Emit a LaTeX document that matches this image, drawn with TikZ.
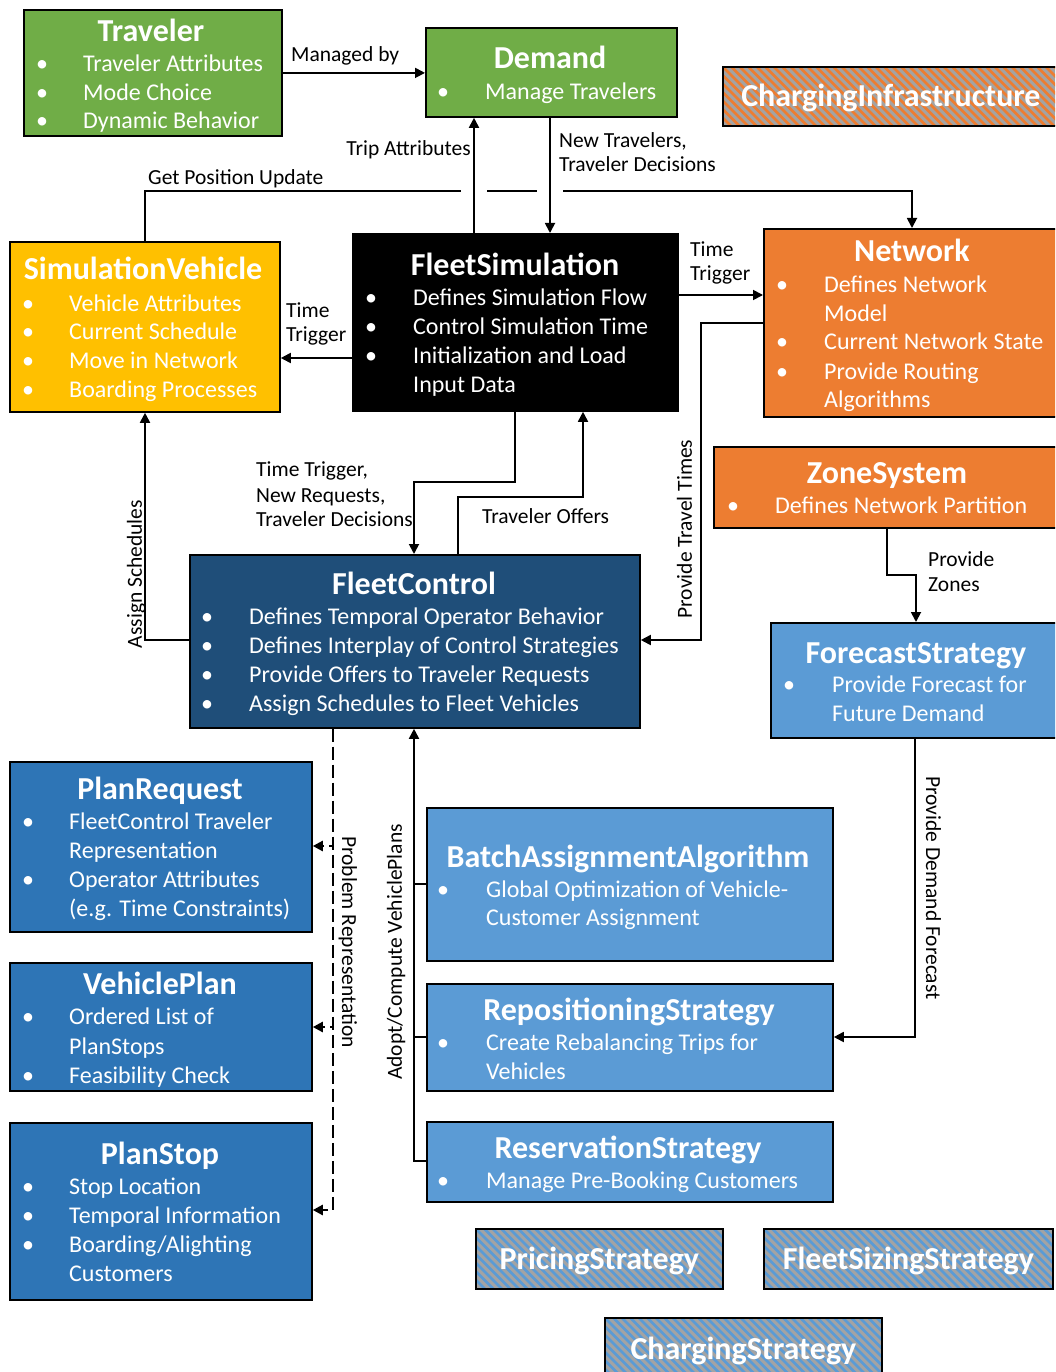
\documentclass[tikz,border=0pt]{standalone}
\usepackage{fontspec}
\setmainfont{Carlito}
\usetikzlibrary{arrows.meta}

\definecolor{cgreen}{HTML}{70AD47}
\definecolor{cyellow}{HTML}{FFC000}
\definecolor{corange}{HTML}{ED7D31}
\definecolor{cnavy}{HTML}{1F4E79}
\definecolor{cmid}{HTML}{2E75B6}
\definecolor{clight}{HTML}{5B9BD5}
\definecolor{hgray}{HTML}{A3A3A3}

% component box: name, colour, left, top, width, height
\newcommand\ubox[6]{\node[box, fill=#2, minimum width=#5pt, minimum height=#6pt] (#1) at (#3,#4) {};}
% component title: name, centre x, centre y, text
\newcommand\uttl[4]{\node[ttl] (#1) at (#2,#3) {#4};}
% bulleted line: name, bullet x, text x, y, text
\newcommand\uitem[5]{\node[bul] (#1-b) at (#2,#4) {\textbullet}; \node[itm] (#1) at (#3,#4) {#5};}
% continuation line: name, text x, y, text
\newcommand\ucont[4]{\node[itm] (#1) at (#2,#3) {#4};}

\tikzset{
  box/.style={draw=black, line width=1.8pt, inner sep=0pt, anchor=north west},
  ttl/.style={font=\bfseries\fontsize{32}{37}\selectfont, text=white, inner sep=0pt,
              text height=20.6pt, text depth=0pt},
  itm/.style={font=\fontsize{24}{29}\selectfont, text=white, inner sep=0pt,
              text height=15.5pt, text depth=0pt, anchor=west},
  bul/.style={itm, anchor=center},
  lbl/.style={font=\fontsize{21.5}{26}\selectfont, inner sep=0pt, text height=13.9pt, text depth=0pt},
  line/.style={draw=black, line width=1.8pt},
  conn/.style={line, -{Triangle[length=10pt,width=10pt]}},
  dconn/.style={conn, line width=2.4pt, dash pattern=on 13pt off 5pt},
  hatch/.style={box, fill=hgray, text=white,
    font=\bfseries\fontsize{32}{37}\selectfont, text height=20.6pt, text depth=0pt,
    path picture={
      \foreach \k in {-12,...,42}
        \draw[#1, line width=2.8pt]
          ([xshift=\k*8.5pt]path picture bounding box.north west) -- ++(100,100);
    }},
}

\begin{document}
\begin{tikzpicture}[x=1pt, y=-1pt]
\useasboundingbox (0,0) rectangle (1055,1372);
\clip (0,0) rectangle (1055,1372);

% ---------- boxes ----------
\ubox{trav}{cgreen}{23}{9}{258}{126}
\uttl{trav-t}{151}{31}{Traveler}
\uitem{trav-1}{42}{83}{64}{Traveler Attributes}
\uitem{trav-2}{42}{83}{92.5}{Mode Choice}
\uitem{trav-3}{42}{83}{121}{Dynamic Behavior}

\ubox{dem}{cgreen}{425}{27}{251}{89}
\uttl{dem-t}{550}{58}{Demand}
\uitem{dem-1}{443}{485}{92}{Manage Travelers}

\node[hatch=corange, minimum width=336pt, minimum height=59pt] (ci) at (722,66) {ChargingInfrastructure};

\ubox{fs}{black}{352}{233}{325}{177}
\uttl{fs-t}{515}{265}{FleetSimulation}
\uitem{fs-1}{371}{413}{298}{Defines Simulation Flow}
\uitem{fs-2}{371}{413}{327}{Control Simulation Time}
\uitem{fs-3}{371}{413}{356}{Initialization and Load}
\ucont{fs-4}{413}{385}{Input Data}

\ubox{sv}{cyellow}{9}{241}{270}{170}
\uttl{sv-t}{143}{269}{SimulationVehicle}
\uitem{sv-1}{28}{69}{303.5}{Vehicle Attributes}
\uitem{sv-2}{28}{69}{332}{Current Schedule}
\uitem{sv-3}{28}{69}{361}{Move in Network}
\uitem{sv-4}{28}{69}{390}{Boarding Processes}

\ubox{net}{corange}{763}{228}{300}{188}
\uttl{net-t}{912}{251}{Network}
\uitem{net-1}{782}{824}{285}{Defines Network}
\ucont{net-2}{824}{313.5}{Model}
\uitem{net-3}{782}{824}{342}{Current Network State}
\uitem{net-4}{782}{824}{371.5}{Provide Routing}
\ucont{net-5}{824}{400}{Algorithms}

\ubox{zs}{corange}{713}{446}{350}{81}
\uttl{zs-t}{887}{473}{ZoneSystem}
\uitem{zs-1}{733}{775}{506}{Defines Network Partition}

\ubox{fc}{cnavy}{189}{554}{450}{173}
\uttl{fc-t}{414}{584}{FleetControl}
\uitem{fc-1}{207}{249}{617}{Defines Temporal Operator Behavior}
\uitem{fc-2}{207}{249}{646}{Defines Interplay of Control Strategies}
\uitem{fc-3}{207}{249}{675}{Provide Offers to Traveler Requests}
\uitem{fc-4}{207}{249}{704}{Assign Schedules to Fleet Vehicles}

\ubox{fcs}{clight}{770}{622}{293}{115}
\uttl{fcs-t}{916}{653}{ForecastStrategy}
\uitem{fcs-1}{789}{832}{685}{Provide Forecast for}
\ucont{fcs-2}{832}{714}{Future Demand}

\ubox{pr}{cmid}{9}{761}{302}{170}
\uttl{pr-t}{160}{789}{PlanRequest}
\uitem{pr-1}{28}{69}{822}{FleetControl Traveler}
\ucont{pr-2}{69}{851}{Representation}
\uitem{pr-3}{28}{69}{880}{Operator Attributes}
\ucont{pr-4}{69}{909}{(e.g. Time Constraints)}

\ubox{vp}{cmid}{9}{962}{302}{128}
\uttl{vp-t}{160}{984}{VehiclePlan}
\uitem{vp-1}{28}{69}{1017}{Ordered List of}
\ucont{vp-2}{69}{1047}{PlanStops}
\uitem{vp-3}{28}{69}{1076}{Feasibility Check}

\ubox{ps}{cmid}{9}{1122}{302}{177}
\uttl{ps-t}{160}{1154}{PlanStop}
\uitem{ps-1}{28}{69}{1187}{Stop Location}
\uitem{ps-2}{28}{69}{1216}{Temporal Information}
\uitem{ps-3}{28}{69}{1245}{Boarding/Alighting}
\ucont{ps-4}{69}{1274}{Customers}

\ubox{bat}{clight}{426}{807}{406}{153}
\uttl{bat-t}{628}{857}{BatchAssignmentAlgorithm}
\uitem{bat-1}{443}{486}{890}{Global Optimization of Vehicle-}
\ucont{bat-2}{486}{918}{Customer Assignment}

\ubox{rep}{clight}{426}{983}{406}{107}
\uttl{rep-t}{629}{1010}{RepositioningStrategy}
\uitem{rep-1}{443}{486}{1043}{Create Rebalancing Trips for}
\ucont{rep-2}{486}{1072}{Vehicles}

\ubox{res}{clight}{426}{1121}{406}{80}
\uttl{res-t}{628}{1148}{ReservationStrategy}
\uitem{res-1}{443}{486}{1181}{Manage Pre-Booking Customers}

\node[hatch=clight, minimum width=247pt, minimum height=60pt] (pri) at (475,1228) {PricingStrategy};
\node[hatch=clight, minimum width=289pt, minimum height=60pt] (fss) at (763,1228) {FleetSizingStrategy};
\node[hatch=clight, minimum width=277pt, minimum height=63pt] (chs) at (604,1317) {ChargingStrategy};

% ---------- connectors ----------
\draw[conn] (trav.east) -- (trav.east -| dem.west);
\node[lbl, anchor=west] (l-man) at (291,55) {Managed by};

\draw[conn] (fs.north -| 474,0) -- (dem.south -| 474,0);
\node[lbl, anchor=east] (l-trip) at (471,149) {Trip Attributes};

\draw[conn] (dem.south -| 550,0) -- (fs.north -| 550,0);
\node[lbl, anchor=west] (l-new1) at (559,141) {New Travelers,};
\node[lbl, anchor=west] (l-new2) at (559,165) {Traveler Decisions};

% position update line, broken where it crosses the two vertical arrows
\coordinate (gpA) at (461,191);
\coordinate (gpB) at (487,191);
\coordinate (gpC) at (537,191);
\coordinate (gpD) at (563,191);
\draw[line] (sv.north -| 145,0) |- (gpA);
\draw[line] (gpB) -- (gpC);
\draw[conn] (gpD) -| (net.north -| 912,0);
\node[lbl, anchor=west] (l-gpu) at (148,178) {Get Position Update};

\draw[conn] (fs.west |- 0,358) -- (sv.east |- 0,358);
\node[lbl, anchor=west] (l-tt1a) at (286,311) {Time};
\node[lbl, anchor=west] (l-tt1b) at (286,335) {Trigger};

\draw[conn] (fs.east |- 0,295) -- (net.west |- 0,295);
\node[lbl, anchor=west] (l-tt2a) at (690,250) {Time};
\node[lbl, anchor=west] (l-tt2b) at (690,274) {Trigger};

\draw[conn] (net.west |- 0,323) -| (701,640) -- (fc.east |- 0,640);
\node[lbl, rotate=90] (l-ptt) at (685,529) {Provide Travel Times};

\draw[conn] (fs.south -| 515,0) |- (414,482) -- (fc.north -| 414,0);
\node[lbl, anchor=west] (l-req1) at (256,470) {Time Trigger,};
\node[lbl, anchor=west] (l-req2) at (256,496) {New Requests,};
\node[lbl, anchor=west] (l-req3) at (256,520) {Traveler Decisions};

\draw[conn] (fc.north -| 458,0) |- (583,497) -- (fs.south -| 583,0);
\node[lbl, anchor=west] (l-off) at (482,517) {Traveler Offers};

\draw[conn] (fc.west |- 0,640) -| (sv.south -| 145,0);
\node[lbl, rotate=90] (l-asg) at (135,574) {Assign Schedules};

\draw[conn] (zs.south -| 887,0) |- (916,575) -- (fcs.north -| 916,0);
\node[lbl, anchor=west] (l-pz1) at (928,560) {Provide};
\node[lbl, anchor=west] (l-pz2) at (928,585) {Zones};

\draw[conn] (fcs.south -| 915,0) |- (rep.east |- 0,1037);
\node[lbl, rotate=-90] (l-pdf) at (933,888) {Provide Demand Forecast};

\draw[conn] (res.west |- 0,1161) -| (fc.south -| 414,0);
\draw[line] (bat.west |- 0,884) -- ++(-12,0);
\draw[line] (rep.west |- 0,1037) -- ++(-12,0);
\node[lbl, rotate=90] (l-acv) at (395,952) {Adopt/Compute VehiclePlans};

\draw[dconn] (fc.south -| 333,0) |- (pr.east |- 0,846);
\draw[dconn] (fc.south -| 333,0) |- (vp.east |- 0,1027);
\draw[dconn] (fc.south -| 333,0) |- (ps.east |- 0,1210);
\node[lbl, rotate=-90] (l-prb) at (349,942) {Problem Representation};

\end{tikzpicture}
\end{document}
